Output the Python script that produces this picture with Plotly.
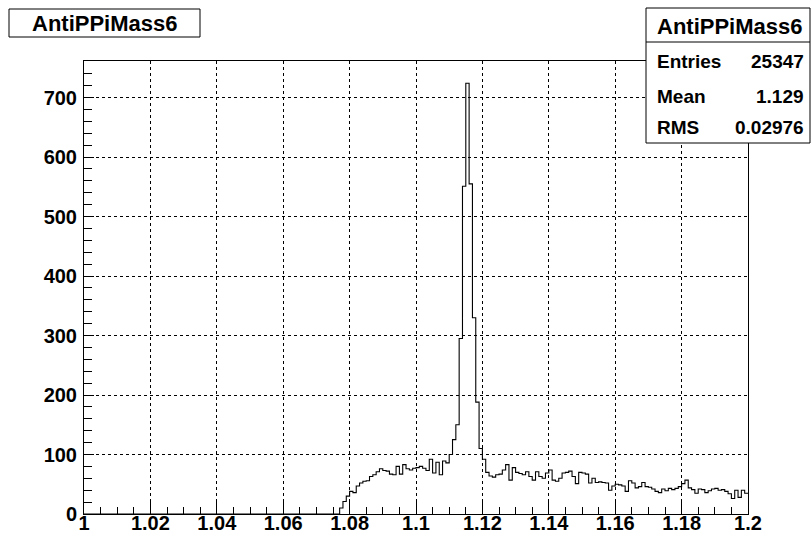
import plotly.graph_objects as go

# ---- data -------------------------------------------------------------
hist_title = "AntiPPiMass6"
bin_low = 1.0
bin_width = 0.001
n_bins = 200

# bin contents for bins starting at 1.077 ... 1.199 (earlier bins are empty)
first_filled_bin = 77
filled_counts = [
    10, 21, 30, 38, 36, 47, 52, 55, 56, 63,      # 1.077 - 1.086
    66, 71, 76, 73, 72, 67, 66, 80, 67, 83,      # 1.087 - 1.096
    76, 74, 77, 78, 80, 77, 73, 92, 69, 87,      # 1.097 - 1.106
    66, 89, 86, 100, 125, 150, 295, 551, 724, 555,  # 1.107 - 1.116
    330, 188, 110, 92, 70, 64, 62, 66, 67, 74,   # 1.117 - 1.126
    83, 57, 78, 70, 68, 66, 71, 63, 57, 71,      # 1.127 - 1.136
    63, 60, 69, 74, 57, 55, 60, 69, 70, 72,      # 1.137 - 1.146
    63, 51, 70, 69, 67, 52, 60, 53, 54, 53,      # 1.147 - 1.156
    52, 40, 47, 50, 49, 47, 38, 56, 52, 44,      # 1.157 - 1.166
    46, 53, 46, 45, 42, 38, 36, 42, 39, 43,      # 1.167 - 1.176
    41, 43, 46, 51, 57, 44, 41, 35, 42, 41,      # 1.177 - 1.186
    36, 39, 42, 43, 40, 41, 38, 34, 26, 40,      # 1.187 - 1.196
    28, 40, 35,                                  # 1.197 - 1.199
]
counts = [0] * first_filled_bin + filled_counts

x_tick_vals = [1.0, 1.02, 1.04, 1.06, 1.08, 1.1, 1.12, 1.14, 1.16, 1.18, 1.2]
x_tick_text = ["1", "1.02", "1.04", "1.06", "1.08", "1.1", "1.12", "1.14", "1.16", "1.18", "1.2"]
y_tick_vals = [0, 100, 200, 300, 400, 500, 600, 700]

stats_labels = ["Entries", "Mean", "RMS"]
stats_values = ["25347", "1.129", "0.02976"]

# ---- build step outline ------------------------------------------------
edges = [bin_low + i * bin_width for i in range(n_bins + 1)]
xs = edges
ys = counts + [counts[-1]]

FONT = "Liberation Sans, Arial, Helvetica, sans-serif"

fig = go.Figure()
fig.add_trace(go.Scatter(
    x=xs, y=ys, mode="lines", line=dict(color="black", width=1.1, shape="hv"),
    hoverinfo="skip", showlegend=False,
))

# plot area in pixels
W, H = 811, 541
L, R, T, B = 84, 748, 61, 514


def px(xp):
    return (xp - L) / (R - L)


def py(yp):
    return (B - yp) / (B - T)


fig.update_layout(
    width=W, height=H,
    margin=dict(l=L, r=W - R, t=T, b=H - B, pad=0, autoexpand=False),
    paper_bgcolor="white", plot_bgcolor="white",
    font=dict(family=FONT, color="black", size=20),
    showlegend=False,
)

fig.update_xaxes(
    range=[1.0, 1.2], tickvals=x_tick_vals, ticktext=x_tick_text,
    automargin=False,
    ticks="inside", ticklen=14, tickwidth=1, tickcolor="black",
    showline=True, linecolor="black", linewidth=1, mirror=True,
    showgrid=True, gridcolor="black", griddash="dot", gridwidth=1,
    zeroline=False,
    tickfont=dict(family=FONT, size=20, color="black", weight="bold"),
    minor=dict(ticks="inside", dtick=0.005, tick0=1.0, ticklen=7, tickcolor="black", showgrid=False),
    ticklabelstandoff=-9,
)
fig.update_yaxes(
    range=[0, 761.5], tickvals=y_tick_vals,
    automargin=False,
    ticks="inside", ticklen=10, tickwidth=1, tickcolor="black",
    showline=True, linecolor="black", linewidth=1, mirror=True,
    showgrid=True, gridcolor="black", griddash="dot", gridwidth=1,
    zeroline=False,
    tickfont=dict(family=FONT, size=20, color="black", weight="bold"),
    minor=dict(ticks="inside", dtick=20, tick0=0, ticklen=8, tickcolor="black", showgrid=False),
    ticklabelstandoff=2,
)

shapes = []
# title box
shapes.append(dict(type="rect", xref="paper", yref="paper",
                   x0=px(9), x1=px(200), y0=py(37), y1=py(9),
                   line=dict(color="black", width=1), fillcolor="white", layer="above"))
# stats box
shapes.append(dict(type="rect", xref="paper", yref="paper",
                   x0=px(646), x1=px(810), y0=py(143), y1=py(8),
                   line=dict(color="black", width=1), fillcolor="white", layer="above"))
shapes.append(dict(type="line", xref="paper", yref="paper",
                   x0=px(646), x1=px(810), y0=py(42), y1=py(42),
                   line=dict(color="black", width=1), layer="above"))
fig.update_layout(shapes=shapes)

ann = []
ann.append(dict(xref="paper", yref="paper", x=px(104.5), y=py(23), text="<b>%s</b>" % hist_title,
                showarrow=False, xanchor="center", yanchor="middle",
                font=dict(family=FONT, size=22, color="black")))
ann.append(dict(xref="paper", yref="paper", x=px(730), y=py(26), text="<b>%s</b>" % hist_title,
                showarrow=False, xanchor="center", yanchor="middle",
                font=dict(family=FONT, size=22, color="black")))
row_y = [61, 97, 128]
for lab, val, yy in zip(stats_labels, stats_values, row_y):
    ann.append(dict(xref="paper", yref="paper", x=px(655), y=py(yy), text="<b>%s</b>" % lab,
                    showarrow=False, xanchor="left", yanchor="middle",
                    font=dict(family=FONT, size=19, color="black")))
    ann.append(dict(xref="paper", yref="paper", x=px(806), y=py(yy), text="<b>%s</b>" % val,
                    showarrow=False, xanchor="right", yanchor="middle",
                    font=dict(family=FONT, size=19, color="black")))
fig.update_layout(annotations=ann)

fig.write_html(
    "out.html",
    config={"displayModeBar": False},
    post_script="document.body.style.margin='0px';document.body.style.overflow='hidden';",
)
